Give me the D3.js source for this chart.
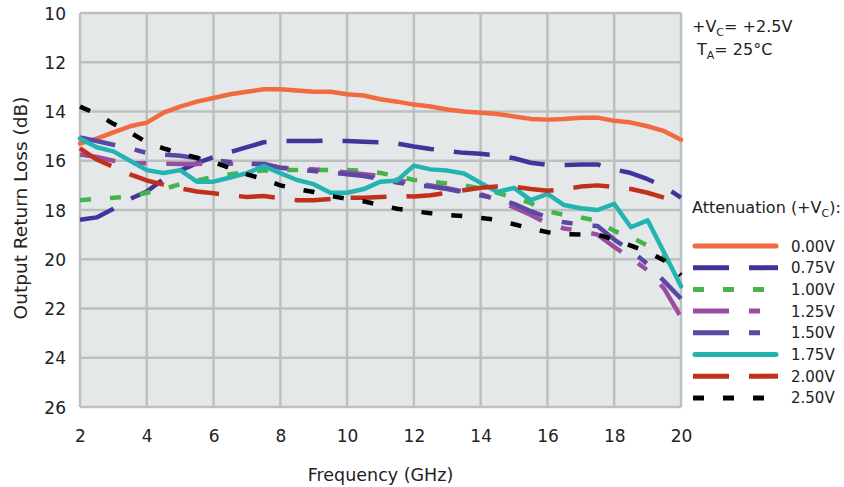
<!DOCTYPE html>
<html>
<head>
<meta charset="utf-8">
<script src="https://cdn.jsdelivr.net/npm/d3@7"></script>
<style>
  html, body { margin: 0; padding: 0; background: #fff; }
  svg { display: block; font-family: "DejaVu Sans", sans-serif; }
</style>
</head>
<body>
<div id="chart-container"></div>
<script>
// data (output return loss, dB)
const freqs = [2, 2.5, 3, 3.5, 4, 4.5, 5, 5.5, 6, 6.5, 7, 7.5, 8, 8.5, 9, 9.5, 10, 10.5, 11, 11.5,
  12, 12.5, 13, 13.5, 14, 14.5, 15, 15.5, 16, 16.5, 17, 17.5, 18, 18.5, 19, 19.5, 20];

const att000 = [15.3, 15.1, 14.85, 14.6, 14.45, 14.05, 13.8, 13.6, 13.45, 13.3, 13.2, 13.1, 13.1, 13.15,
  13.2, 13.2, 13.3, 13.35, 13.5, 13.6, 13.72, 13.8, 13.92, 14.0, 14.05, 14.1, 14.2, 14.3, 14.33, 14.3,
  14.25, 14.25, 14.38, 14.45, 14.6, 14.8, 15.15];
const att075 = [18.4, 18.3, 17.95, 17.55, 17.25, 16.75, 16.4, 16.1, 15.85, 15.65, 15.45, 15.25, 15.2, 15.2,
  15.2, 15.18, 15.2, 15.23, 15.25, 15.3, 15.42, 15.52, 15.6, 15.68, 15.72, 15.78, 15.9, 16.08, 16.17, 16.17,
  16.15, 16.15, 16.35, 16.5, 16.75, 17.05, 17.5];
const att100 = [17.6, 17.55, 17.5, 17.45, 17.3, 17.15, 16.95, 16.8, 16.65, 16.55, 16.45, 16.4, 16.38, 16.38,
  16.38, 16.38, 16.38, 16.4, 16.5, 16.62, 16.78, 16.85, 16.92, 17.0, 17.12, 17.3, 17.5, 17.72, 18.05, 18.2,
  18.3, 18.45, 18.85, 19.1, 19.45, 19.95, 20.6];
const att125 = [15.75, 15.85, 16.0, 16.1, 16.1, 16.12, 16.13, 16.13, 16.1, 16.12, 16.12, 16.12, 16.28, 16.32,
  16.35, 16.4, 16.48, 16.55, 16.62, 16.78, 16.92, 17.0, 17.12, 17.25, 17.35, 17.6, 17.9, 18.2, 18.55, 18.75,
  18.85, 19.0, 19.5, 19.95, 20.45, 21.2, 22.35];
const att150 = [15.05, 15.2, 15.35, 15.5, 15.68, 15.75, 15.8, 15.9, 15.98, 16.05, 16.12, 16.15, 16.28, 16.35,
  16.42, 16.48, 16.55, 16.62, 16.75, 16.88, 17.0, 17.05, 17.15, 17.28, 17.4, 17.55, 17.75, 18.05, 18.3, 18.5,
  18.6, 18.65, 19.2, 19.65, 20.2, 20.9, 21.6];
const att175 = [15.1, 15.45, 15.62, 16.0, 16.38, 16.5, 16.38, 16.85, 16.85, 16.68, 16.5, 16.22, 16.5, 16.78,
  16.95, 17.3, 17.3, 17.15, 16.85, 16.8, 16.2, 16.35, 16.4, 16.52, 16.9, 17.27, 17.1, 17.6, 17.35, 17.8,
  17.93, 18.0, 17.75, 18.7, 18.42, 19.75, 21.1];
const att200 = [15.5, 15.95, 16.25, 16.55, 16.8, 16.97, 17.12, 17.25, 17.32, 17.4, 17.47, 17.43, 17.52, 17.6,
  17.6, 17.55, 17.5, 17.5, 17.47, 17.44, 17.45, 17.4, 17.3, 17.2, 17.1, 17.05, 17.05, 17.15, 17.22, 17.15,
  17.05, 17.0, 17.07, 17.15, 17.3, 17.5, 17.8];
const att250 = [13.8, 14.1, 14.5, 14.85, 15.25, 15.5, 15.7, 15.88, 16.05, 16.3, 16.55, 16.75, 17.0, 17.15,
  17.27, 17.43, 17.55, 17.65, 17.8, 17.95, 18.05, 18.13, 18.2, 18.25, 18.32, 18.4, 18.58, 18.75, 18.9, 18.98,
  19.0, 19.0, 19.2, 19.45, 19.7, 20.05, 20.65];

const seriesLabels = ["0.00V", "0.75V", "1.00V", "1.25V", "1.50V", "1.75V", "2.00V", "2.50V"];
const xTicks = [2, 4, 6, 8, 10, 12, 14, 16, 18, 20];
const yTicks = [10, 12, 14, 16, 18, 20, 22, 24, 26];

// line styles per series
const styles = [
  { color: "#f26a3f", dash: null, cap: "round" },
  { color: "#41359b", dash: "36,20", cap: "butt" },
  { color: "#45b54b", dash: "11,19", cap: "butt" },
  { color: "#9a4ea1", dash: "36,20,11,20", cap: "butt" },
  { color: "#5b48a2", dash: "36,20,11,20", cap: "butt" },
  { color: "#23b3b1", dash: null, cap: "round" },
  { color: "#c0301d", dash: "36,20", cap: "butt" },
  { color: "#000000", dash: "11,19", cap: "butt" },
];
const seriesValues = [att000, att075, att100, att125, att150, att175, att200, att250];

const series = seriesLabels.map((label, i) => ({
  label,
  points: freqs.map((f, j) => ({ f, v: seriesValues[i][j] })),
  ...styles[i],
}));

const [svg, w, h, padding] = renderSvg();
const x = d3.scaleLinear().domain([2, 20]).range([0, w]);
const y = d3.scaleLinear().domain([10, 26]).range([0, h]);

renderGrid();
renderAxes();
renderLines();
renderNotes();
renderLegend();

function renderSvg() {
  const padding = { top: 13, right: 163, bottom: 80, left: 80 };
  const W = 844, H = 487;
  const w = W - padding.left - padding.right;
  const h = H - padding.top - padding.bottom;
  const svg = d3
    .select("#chart-container")
    .append("svg")
    .attr("width", W)
    .attr("height", H);
  return [svg, w, h, padding];
}

function renderGrid() {
  const g = svg.append("g").attr("transform", `translate(${padding.left}, ${padding.top})`);
  g.append("rect")
    .attr("width", w)
    .attr("height", h)
    .attr("fill", "#e5e8e9");

  g.selectAll(".vgrid")
    .data(xTicks)
    .enter()
    .append("line")
    .attr("x1", (d) => x(d))
    .attr("x2", (d) => x(d))
    .attr("y1", 0)
    .attr("y2", h)
    .attr("stroke", "#bdc0c0")
    .attr("stroke-width", 2.5);

  g.selectAll(".hgrid")
    .data(yTicks)
    .enter()
    .append("line")
    .attr("x1", 0)
    .attr("x2", w)
    .attr("y1", (d) => y(d))
    .attr("y2", (d) => y(d))
    .attr("stroke", "#bdc0c0")
    .attr("stroke-width", 2.5);
}

function renderAxes() {
  const xAxis = d3.axisBottom(x).tickValues(xTicks).tickSize(0).tickPadding(0);
  const gx = svg
    .append("g")
    .attr("transform", `translate(${padding.left}, ${padding.top + h})`)
    .call(xAxis);
  gx.select(".domain").remove();
  gx.selectAll("text")
    .attr("y", 35)
    .attr("dy", 0)
    .attr("fill", "#222")
    .style("font-size", "17px")
    .style("font-family", "DejaVu Sans");

  const yAxis = d3.axisLeft(y).tickValues(yTicks).tickSize(0).tickPadding(0);
  const gy = svg
    .append("g")
    .attr("transform", `translate(${padding.left}, ${padding.top})`)
    .call(yAxis);
  gy.select(".domain").remove();
  gy.selectAll("text")
    .attr("x", -14)
    .attr("dy", "0.36em")
    .attr("fill", "#222")
    .style("font-size", "17px")
    .style("font-family", "DejaVu Sans");

  svg.append("text")
    .attr("x", padding.left + w / 2)
    .attr("y", 481)
    .attr("text-anchor", "middle")
    .attr("fill", "#222")
    .style("font-size", "17.5px")
    .text("Frequency (GHz)");

  svg.append("text")
    .attr("transform", `translate(27, ${padding.top + h / 2 - 2}) rotate(-90)`)
    .attr("text-anchor", "middle")
    .attr("fill", "#222")
    .style("font-size", "18.5px")
    .text("Output Return Loss (dB)");
}

function renderLines() {
  const line = d3
    .line()
    .x((d) => x(d.f))
    .y((d) => y(d.v));

  const g = svg
    .append("g")
    .attr("transform", `translate(${padding.left}, ${padding.top})`);

  g.selectAll(".series")
    .data(series)
    .enter()
    .append("path")
    .attr("class", "series")
    .attr("d", (d) => line(d.points))
    .attr("fill", "none")
    .attr("stroke", (d) => d.color)
    .attr("stroke-width", 4.5)
    .attr("stroke-linejoin", "round")
    .attr("stroke-linecap", (d) => d.cap)
    .attr("stroke-dasharray", (d) => d.dash);
}

function renderNotes() {
  const t1 = svg.append("text").attr("x", 692).attr("y", 32).attr("fill", "#222").style("font-size", "16px");
  t1.append("tspan").text("+V");
  t1.append("tspan").attr("dy", 4).style("font-size", "11px").text("C");
  t1.append("tspan").attr("dy", -4).text("= +2.5V");

  const t2 = svg.append("text").attr("x", 697).attr("y", 55).attr("fill", "#222").style("font-size", "16px");
  t2.append("tspan").text("T");
  t2.append("tspan").attr("dy", 4).style("font-size", "11px").text("A");
  t2.append("tspan").attr("dy", -4).text("= 25°C");
}

function renderLegend() {
  const title = svg.append("text").attr("x", 692).attr("y", 213).attr("fill", "#222").style("font-size", "16px");
  title.append("tspan").text("Attenuation (+V");
  title.append("tspan").attr("dy", 4).style("font-size", "11px").text("C");
  title.append("tspan").attr("dy", -4).text("):");

  const legend = svg
    .append("g")
    .attr("id", "legend")
    .selectAll(".legend-item")
    .data(series)
    .enter()
    .append("g")
    .attr("class", "legend-item")
    .attr("transform", (d, i) => `translate(0, ${246 + i * 21.7})`);

  legend
    .append("line")
    .attr("x1", (d) => (d.cap === "round" ? 695 : 693))
    .attr("x2", (d) => (d.cap === "round" ? 776 : 778))
    .attr("y1", 0)
    .attr("y2", 0)
    .attr("stroke", (d) => d.color)
    .attr("stroke-width", 5)
    .attr("stroke-linecap", (d) => d.cap)
    .attr("stroke-dasharray", (d) => d.dash);

  legend
    .append("text")
    .attr("x", 791)
    .attr("y", 5.5)
    .attr("fill", "#222")
    .style("font-size", "15px")
    .text((d) => d.label);
}
</script>
</body>
</html>
